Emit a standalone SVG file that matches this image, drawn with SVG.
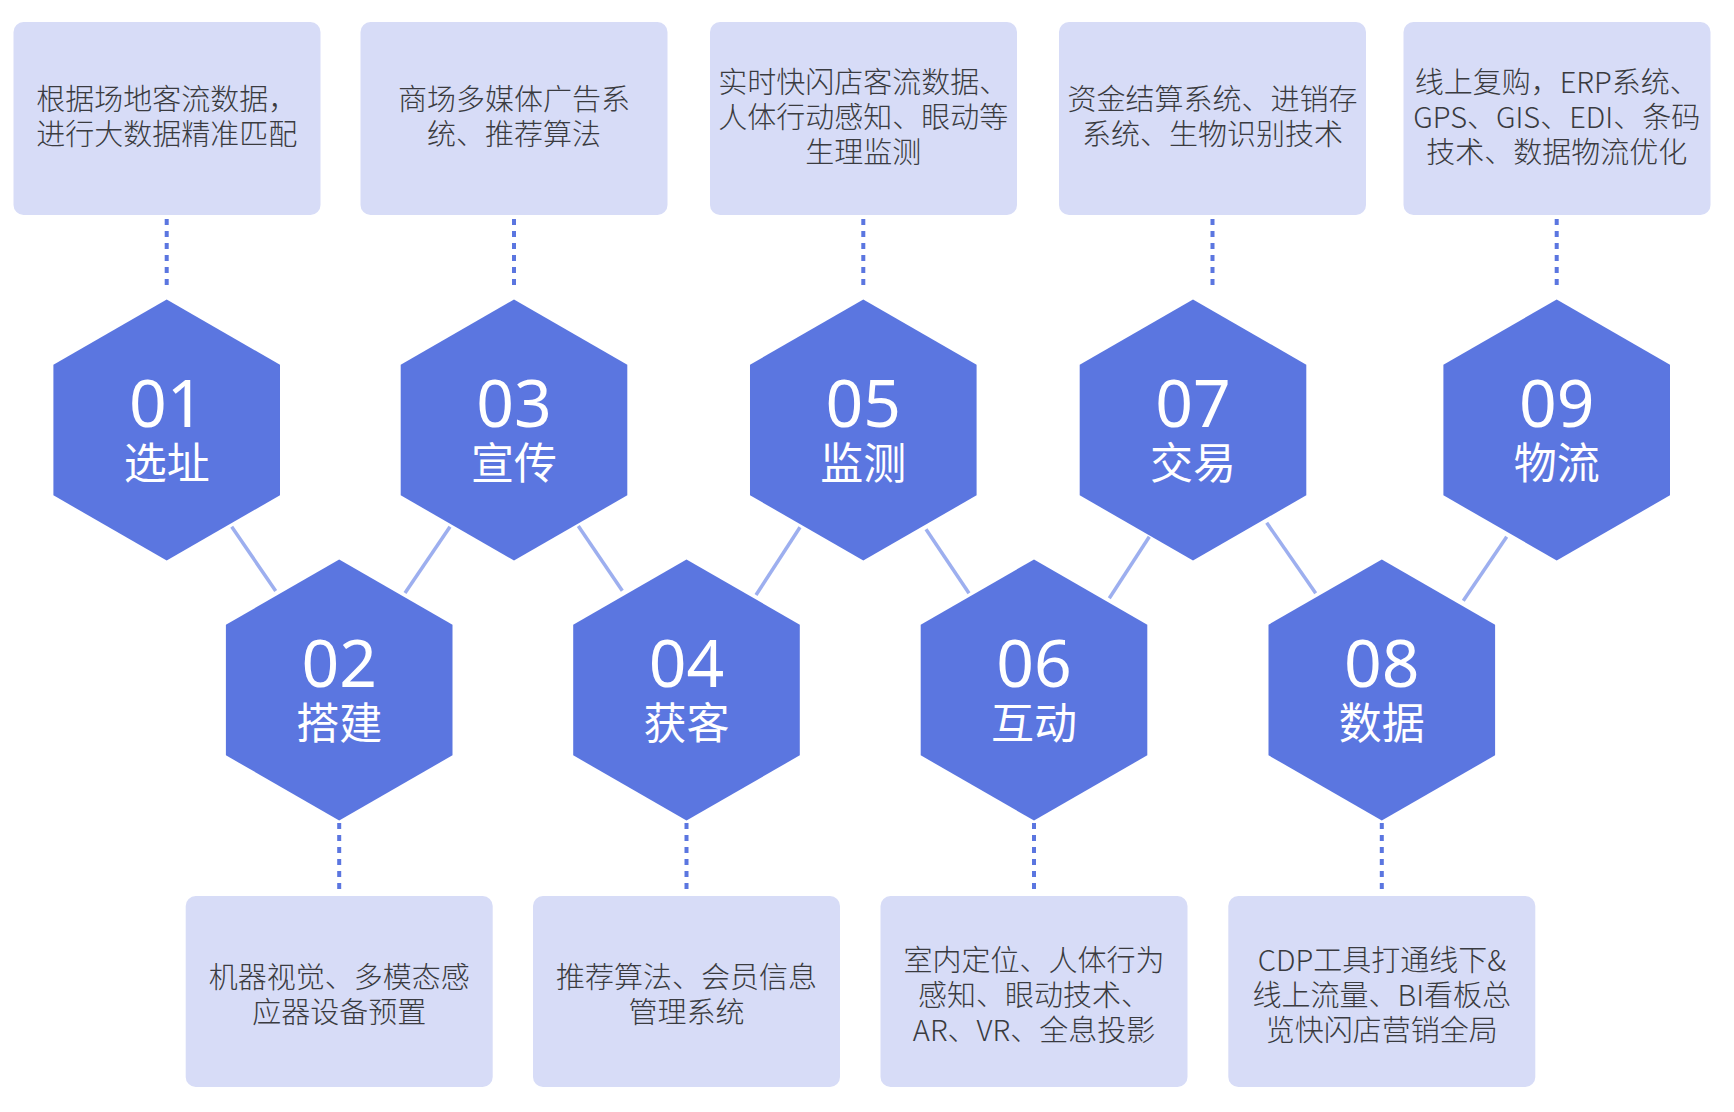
<svg xmlns="http://www.w3.org/2000/svg" xmlns:xlink="http://www.w3.org/1999/xlink" width="1734" height="1112" viewBox="0 0 1734 1112">
  <style>
    .hex { fill: #5B76E0; }
    .box { fill: #D7DCF7; }
    .hexText { fill: #FFFFFF; text-anchor: middle; }
    .num { font-family: "Noto Sans", "Open Sans", sans-serif; font-size: 66px; }
    .lbl { font-family: "Noto Sans CJK SC", sans-serif; font-size: 43px; }
    .desc { font-family: "Noto Sans CJK SC", sans-serif; font-size: 29px; font-weight: 300; fill: #3A3B40; text-anchor: middle; }
    .link { stroke: #9DAFEF; stroke-width: 3.5; stroke-linecap: butt; fill: none; }
    .dot { stroke: #5B76E0; stroke-width: 4; stroke-dasharray: 6 6; fill: none; }
  </style>
  <defs>
    <polygon id="hexShape" points="0,-130.5 113.3,-65.3 113.3,65.3 0,130.5 -113.3,65.3 -113.3,-65.3"/>
  </defs>
  <rect width="1734" height="1112" fill="#FFFFFF"/>

  <g id="connectors">
    <line class="link" x1="231.7" y1="526.7" x2="275.7" y2="591"/>
    <line class="link" x1="450" y1="526.7" x2="405" y2="593"/>
    <line class="link" x1="578.3" y1="526" x2="622.3" y2="590.7"/>
    <line class="link" x1="800" y1="527.3" x2="756" y2="595"/>
    <line class="link" x1="926" y1="529.3" x2="969" y2="593.3"/>
    <line class="link" x1="1149.3" y1="536.7" x2="1109.3" y2="598.3"/>
    <line class="link" x1="1266.7" y1="522.7" x2="1315.7" y2="593.3"/>
    <line class="link" x1="1506.7" y1="536.7" x2="1463.3" y2="600.7"/>

    <line class="dot" x1="166.7" y1="219" x2="166.7" y2="288"/>
    <line class="dot" x1="514" y1="219" x2="514" y2="288"/>
    <line class="dot" x1="863.3" y1="219" x2="863.3" y2="288"/>
    <line class="dot" x1="1212.5" y1="219" x2="1212.5" y2="288"/>
    <line class="dot" x1="1556.7" y1="219" x2="1556.7" y2="288"/>

    <line class="dot" x1="339.2" y1="823" x2="339.2" y2="889"/>
    <line class="dot" x1="686.5" y1="823" x2="686.5" y2="889"/>
    <line class="dot" x1="1034" y1="823" x2="1034" y2="889"/>
    <line class="dot" x1="1381.8" y1="823" x2="1381.8" y2="889"/>
  </g>

  <g id="node-01" transform="translate(166.7,430)">
    <use xlink:href="#hexShape" href="#hexShape" class="hex"/>
    <text class="hexText"><tspan class="num" x="0" y="-3">01</tspan><tspan class="lbl" x="0" y="49">选址</tspan></text>
  </g>
  <g id="node-02" transform="translate(339.2,690)">
    <use xlink:href="#hexShape" href="#hexShape" class="hex"/>
    <text class="hexText"><tspan class="num" x="0" y="-3">02</tspan><tspan class="lbl" x="0" y="49">搭建</tspan></text>
  </g>
  <g id="node-03" transform="translate(514,430)">
    <use xlink:href="#hexShape" href="#hexShape" class="hex"/>
    <text class="hexText"><tspan class="num" x="0" y="-3">03</tspan><tspan class="lbl" x="0" y="49">宣传</tspan></text>
  </g>
  <g id="node-04" transform="translate(686.5,690)">
    <use xlink:href="#hexShape" href="#hexShape" class="hex"/>
    <text class="hexText"><tspan class="num" x="0" y="-3">04</tspan><tspan class="lbl" x="0" y="49">获客</tspan></text>
  </g>
  <g id="node-05" transform="translate(863.3,430)">
    <use xlink:href="#hexShape" href="#hexShape" class="hex"/>
    <text class="hexText"><tspan class="num" x="0" y="-3">05</tspan><tspan class="lbl" x="0" y="49">监测</tspan></text>
  </g>
  <g id="node-06" transform="translate(1034,690)">
    <use xlink:href="#hexShape" href="#hexShape" class="hex"/>
    <text class="hexText"><tspan class="num" x="0" y="-3">06</tspan><tspan class="lbl" x="0" y="49">互动</tspan></text>
  </g>
  <g id="node-07" transform="translate(1193,430)">
    <use xlink:href="#hexShape" href="#hexShape" class="hex"/>
    <text class="hexText"><tspan class="num" x="0" y="-3">07</tspan><tspan class="lbl" x="0" y="49">交易</tspan></text>
  </g>
  <g id="node-08" transform="translate(1381.8,690)">
    <use xlink:href="#hexShape" href="#hexShape" class="hex"/>
    <text class="hexText"><tspan class="num" x="0" y="-3">08</tspan><tspan class="lbl" x="0" y="49">数据</tspan></text>
  </g>
  <g id="node-09" transform="translate(1556.7,430)">
    <use xlink:href="#hexShape" href="#hexShape" class="hex"/>
    <text class="hexText"><tspan class="num" x="0" y="-3">09</tspan><tspan class="lbl" x="0" y="49">物流</tspan></text>
  </g>

  <g id="desc-01">
    <rect class="box" x="13.5" y="22" width="307" height="193" rx="10"/>
    <text class="desc" x="166.7" y="110">根据场地客流数据，</text>
    <text class="desc" x="166.7" y="145">进行大数据精准匹配</text>
  </g>
  <g id="desc-03">
    <rect class="box" x="360.5" y="22" width="307" height="193" rx="10"/>
    <text class="desc" x="514" y="110">商场多媒体广告系</text>
    <text class="desc" x="514" y="145">统、推荐算法</text>
  </g>
  <g id="desc-05">
    <rect class="box" x="710" y="22" width="307" height="193" rx="10"/>
    <text class="desc" x="863.3" y="92.5">实时快闪店客流数据、</text>
    <text class="desc" x="863.3" y="127.5">人体行动感知、眼动等</text>
    <text class="desc" x="863.3" y="162.5">生理监测</text>
  </g>
  <g id="desc-07">
    <rect class="box" x="1059" y="22" width="307" height="193" rx="10"/>
    <text class="desc" x="1212.5" y="110">资金结算系统、进销存</text>
    <text class="desc" x="1212.5" y="145">系统、生物识别技术</text>
  </g>
  <g id="desc-09">
    <rect class="box" x="1403.5" y="22" width="307" height="193" rx="10"/>
    <text class="desc" x="1556.7" y="92.5">线上复购，ERP系统、</text>
    <text class="desc" x="1556.7" y="127.5">GPS、GIS、EDI、条码</text>
    <text class="desc" x="1556.7" y="162.5">技术、数据物流优化</text>
  </g>

  <g id="desc-02">
    <rect class="box" x="185.7" y="896" width="307" height="191" rx="10"/>
    <text class="desc" x="339.2" y="988">机器视觉、多模态感</text>
    <text class="desc" x="339.2" y="1023">应器设备预置</text>
  </g>
  <g id="desc-04">
    <rect class="box" x="533" y="896" width="307" height="191" rx="10"/>
    <text class="desc" x="686.5" y="988">推荐算法、会员信息</text>
    <text class="desc" x="686.5" y="1023">管理系统</text>
  </g>
  <g id="desc-06">
    <rect class="box" x="880.5" y="896" width="307" height="191" rx="10"/>
    <text class="desc" x="1034" y="970.5">室内定位、人体行为</text>
    <text class="desc" x="1034" y="1005.5">感知、眼动技术、</text>
    <text class="desc" x="1034" y="1040.5">AR、VR、全息投影</text>
  </g>
  <g id="desc-08">
    <rect class="box" x="1228.3" y="896" width="307" height="191" rx="10"/>
    <text class="desc" x="1381.8" y="970.5">CDP工具打通线下&amp;</text>
    <text class="desc" x="1381.8" y="1005.5">线上流量、BI看板总</text>
    <text class="desc" x="1381.8" y="1040.5">览快闪店营销全局</text>
  </g>
</svg>
